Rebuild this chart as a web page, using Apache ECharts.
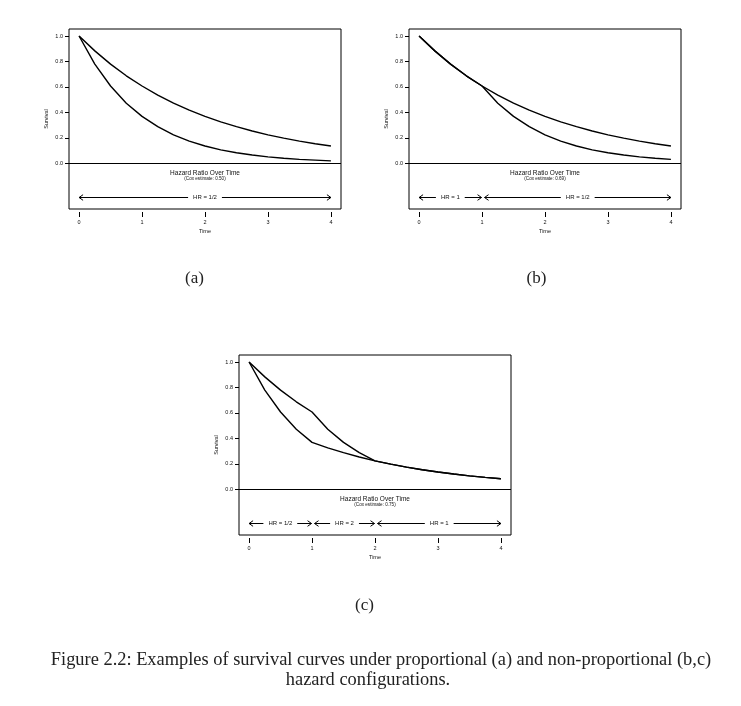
<!DOCTYPE html>
<html>
<head>
<meta charset="utf-8">
<script src="https://cdn.jsdelivr.net/npm/echarts@6/dist/echarts.min.js"></script>
<style>
html,body{margin:0;padding:0;background:#fff;}
#chart{width:741px;height:706px;}
</style>
</head>
<body>
<div id="chart"></div>
<script>
// ---- data ----
const times = [0,0.25,0.5,0.75,1,1.25,1.5,1.75,2,2.25,2.5,2.75,3,3.25,3.5,3.75,4];
const aUpper = [1.000,0.883,0.779,0.687,0.607,0.535,0.472,0.417,0.368,0.325,0.287,0.253,0.223,0.197,0.174,0.153,0.135];
const aLower = [1.000,0.779,0.607,0.472,0.368,0.287,0.223,0.174,0.135,0.105,0.082,0.064,0.050,0.039,0.030,0.024,0.018];
const bUpper = [1.000,0.883,0.779,0.687,0.607,0.535,0.472,0.417,0.368,0.325,0.287,0.253,0.223,0.197,0.174,0.153,0.135];
const bLower = [1.000,0.883,0.779,0.687,0.607,0.472,0.368,0.287,0.223,0.174,0.135,0.105,0.082,0.064,0.050,0.039,0.030];
const cUpper = [1.000,0.883,0.779,0.687,0.607,0.472,0.368,0.287,0.223,0.197,0.174,0.153,0.135,0.119,0.105,0.093,0.082];
const cLower = [1.000,0.779,0.607,0.472,0.368,0.325,0.287,0.253,0.223,0.197,0.174,0.153,0.135,0.119,0.105,0.093,0.082];
const coxEstimates = ['0.50','0.69','0.75'];
const aSegments = [[0,4,'HR = 1/2']];
const bSegments = [[0,1,'HR = 1'],[1,4,'HR = 1/2']];
const cSegments = [[0,1,'HR = 1/2'],[1,2,'HR = 2'],[2,4,'HR = 1']];
const yTicks = [0,0.2,0.4,0.6,0.8,1.0];
const xTicks = [0,1,2,3,4];
const panelLabels = ['(a)','(b)','(c)'];
const captionLines = ['Figure 2.2: Examples of survival curves under proportional (a) and non-proportional (b,c)','hazard configurations.'];

// ---- layout ----
const grids = [
  {left:69, top:29, width:272, height:180},
  {left:409, top:29, width:272, height:180},
  {left:239, top:355, width:272, height:180}
];
const panels = [
  {upper:aUpper, lower:aLower, segs:aSegments, cox:coxEstimates[0]},
  {upper:bUpper, lower:bLower, segs:bSegments, cox:coxEstimates[1]},
  {upper:cUpper, lower:cLower, segs:cSegments, cox:coxEstimates[2]}
];
const SANS = '"Liberation Sans", Arial, sans-serif';
const SERIF = '"Liberation Serif", "DejaVu Serif", serif';
const arrowY = -0.264, titleY = -0.08, coxY = -0.122;
const xMin = -0.16, xMax = 4.16, yMin = -0.36, yMax = 1.055;

const xAxes = [], yAxes = [], series = [];
grids.forEach((g, i) => {
  xAxes.push({
    gridIndex:i, type:'value', min:xMin, max:xMax, offset:3, position:'bottom',
    name:'Time', nameLocation:'middle', nameGap:16,
    nameTextStyle:{fontFamily:SANS, fontSize:5.5, color:'#111'},
    axisLine:{show:false, onZero:false},
    axisTick:{show:true, length:5, customValues:xTicks, lineStyle:{color:'#000', width:1}},
    axisLabel:{customValues:xTicks, fontFamily:SANS, fontSize:5.5, color:'#111', margin:7},
    splitLine:{show:false}
  });
  yAxes.push({
    gridIndex:i, type:'value', min:yMin, max:yMax, position:'left',
    name:'Survival', nameLocation:'middle', nameGap:20, nameRotate:90,
    nameTextStyle:{fontFamily:SANS, fontSize:5.5, color:'#111'},
    axisLine:{show:false, onZero:false},
    axisTick:{show:true, length:4, customValues:yTicks, lineStyle:{color:'#000', width:1}},
    axisLabel:{customValues:yTicks, fontFamily:SANS, fontSize:5.5, color:'#111', margin:6,
      formatter:v => v.toFixed(1)},
    splitLine:{show:false}
  });
  const p = panels[i];
  ['upper','lower'].forEach((k, j) => {
    const s = {
      type:'line', xAxisIndex:i, yAxisIndex:i, showSymbol:false, symbol:'none',
      data: times.map((t, n) => [t, p[k][n]]),
      lineStyle:{color:'#000', width:1.4}, silent:true, animation:false, z:3
    };
    if (j === 0) {
      s.markLine = {
        silent:true, symbol:['none','none'], label:{show:false},
        lineStyle:{color:'#000', width:1, type:'solid'},
        data:[{yAxis:0}], animation:false
      };
    }
    series.push(s);
  });
  // arrows
  const segs = p.segs;
  series.push({
    type:'custom', xAxisIndex:i, yAxisIndex:i, silent:true, animation:false, z:4,
    data: segs.map(s => [s[0], s[1]]),
    renderItem:(params, api) => {
      const seg = segs[params.dataIndex];
      const from = seg[0], to = seg[1];
      const p0 = api.coord([from, arrowY]), p1 = api.coord([to, arrowY]);
      const y = Math.round(p0[1]) + 0.5;
      const x0 = p0[0] + (from > times[0] ? 2.5 : 0);
      const x1 = p1[0] - (to < times[times.length-1] ? 0.5 : 0);
      const ls = {stroke:'#000', lineWidth:1, fill:null};
      return {type:'group', children:[
        {type:'line', shape:{x1:x0, y1:y, x2:x1, y2:y}, style:ls},
        {type:'polyline', shape:{points:[[x0+4,y-2.8],[x0,y],[x0+4,y+2.8]]}, style:ls},
        {type:'polyline', shape:{points:[[x1-4,y-2.8],[x1,y],[x1-4,y+2.8]]}, style:ls},
        {type:'text', style:{text:seg[2], x:(x0+x1)/2, y:y, align:'center', verticalAlign:'middle',
          fill:'#111', font:'6px ' + SANS, backgroundColor:'#fff', padding:[1,5]}}
      ]};
    }
  });
  // titles
  series.push({
    type:'custom', xAxisIndex:i, yAxisIndex:i, silent:true, animation:false, z:4,
    data:[[2, titleY]],
    renderItem:(params, api) => {
      const c1 = api.coord([2, titleY]);
      const c2 = api.coord([2, coxY]);
      return {type:'group', children:[
        {type:'text', style:{text:'Hazard Ratio Over Time', x:c1[0], y:c1[1], align:'center', verticalAlign:'middle',
          fill:'#111', font:'6.5px ' + SANS}},
        {type:'text', style:{text:'(Cox estimate: ' + p.cox + ')', x:c2[0], y:c2[1], align:'center', verticalAlign:'middle',
          fill:'#111', font:'4.6px ' + SANS}}
      ]};
    }
  });
});

const graphic = [
  {type:'text', x:194.5, y:279, style:{text:panelLabels[0], font:'17px ' + SERIF, fill:'#222', align:'center', verticalAlign:'middle'}},
  {type:'text', x:536.5, y:279, style:{text:panelLabels[1], font:'17px ' + SERIF, fill:'#222', align:'center', verticalAlign:'middle'}},
  {type:'text', x:364.5, y:606, style:{text:panelLabels[2], font:'17px ' + SERIF, fill:'#222', align:'center', verticalAlign:'middle'}},
  {type:'text', x:381, y:660, style:{text:captionLines[0], font:'18.4px ' + SERIF, fill:'#222', align:'center', verticalAlign:'middle'}},
  {type:'text', x:368, y:680, style:{text:captionLines[1], font:'18.4px ' + SERIF, fill:'#222', align:'center', verticalAlign:'middle'}}
];

const chart = echarts.init(document.getElementById('chart'), null, {renderer:'canvas'});
chart.setOption({
  backgroundColor:'#fff',
  animation:false,
  grid: grids.map(g => Object.assign({show:true, borderColor:'#000', borderWidth:1, backgroundColor:'transparent', containLabel:false}, g)),
  xAxis:xAxes,
  yAxis:yAxes,
  series:series,
  graphic:graphic
});
</script>
</body>
</html>
